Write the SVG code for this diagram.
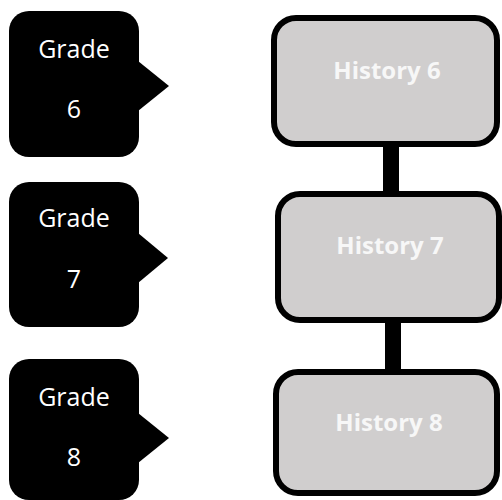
<svg xmlns="http://www.w3.org/2000/svg" width="502" height="500" viewBox="0 0 502 500">
<style>
.grade{fill:#000}
.gt{font-family:"Open Sans","Liberation Sans",sans-serif;font-size:25px;fill:#fff;text-anchor:middle}
.hist{fill:#d0cece;stroke:#000;stroke-width:6}
.ht{font-family:"Open Sans","Liberation Sans",sans-serif;font-size:24px;font-weight:bold;fill:#f7f7f7;text-anchor:middle}
.conn{fill:#000}
</style>
<g id="connectors">
<rect class="conn" x="383" y="144" width="16" height="50"/>
<rect class="conn" x="385" y="320" width="16" height="52"/>
</g>
<g id="grade6">
<rect class="grade" x="9" y="11" width="130" height="146" rx="20"/>
<polygon class="grade" points="138,61 169,86 138,111"/>
<text class="gt" x="74" y="58">Grade</text>
<text class="gt" x="74" y="118">6</text>
</g>
<g id="grade7">
<rect class="grade" x="9" y="182" width="130" height="145" rx="20"/>
<polygon class="grade" points="138,233 168,258 138,283"/>
<text class="gt" x="74" y="227">Grade</text>
<text class="gt" x="74" y="288">7</text>
</g>
<g id="grade8">
<rect class="grade" x="9" y="359" width="130" height="141" rx="20"/>
<polygon class="grade" points="138,413 169,438 138,463"/>
<text class="gt" x="74" y="406">Grade</text>
<text class="gt" x="74" y="466">8</text>
</g>
<g id="history6">
<rect class="hist" x="274" y="18" width="223" height="126" rx="22"/>
<text class="ht" x="387" y="79">History 6</text>
</g>
<g id="history7">
<rect class="hist" x="278" y="194" width="221" height="126" rx="22"/>
<text class="ht" x="390" y="254">History 7</text>
</g>
<g id="history8">
<rect class="hist" x="276" y="372" width="221" height="121" rx="22"/>
<text class="ht" x="389" y="431">History 8</text>
</g>
</svg>
